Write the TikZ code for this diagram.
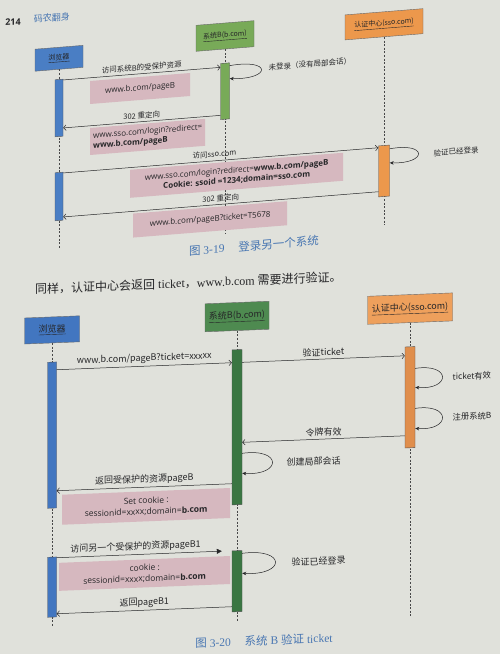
\documentclass[tikz,border=0pt]{standalone}
\usepackage{fontspec}
\setmainfont{Liberation Serif}
\newfontfamily\cjk{Noto Sans CJK SC}
\newfontfamily\lat{Open Sans}
\usetikzlibrary{arrows.meta}

\definecolor{paper}{RGB}{224,225,219}
\definecolor{ink}{RGB}{38,38,40}
\definecolor{capblue}{RGB}{72,118,178}
\definecolor{pinkbox}{RGB}{214,184,191}
\definecolor{blueA}{RGB}{74,126,196}
\definecolor{greenA}{RGB}{120,170,88}
\definecolor{orangeA}{RGB}{236,152,76}
\definecolor{blueB}{RGB}{66,118,192}
\definecolor{greenB}{RGB}{78,138,80}
\definecolor{greenBbar}{RGB}{58,118,66}
\definecolor{orangeB}{RGB}{238,160,92}
\definecolor{orangeBbar}{RGB}{224,142,76}

\begin{document}
\begin{tikzpicture}[x=1pt,y=-1pt,
  head/.style={draw=ink!70, line width=0.4pt, inner sep=0pt, text=ink},
  headS/.style={head, font=\cjk\fontsize{7}{8}\selectfont},
  headL/.style={head, font=\cjk\fontsize{9}{10}\selectfont},
  actbar/.style={draw=ink!80, line width=0.4pt, inner sep=0pt, anchor=north},
  life/.style={draw=ink!85, line width=0.5pt, dash pattern=on 2pt off 1.6pt},
  msg/.style={draw=ink, line width=0.5pt, -{Straight Barb[length=2.5pt,width=5.5pt]}},
  selfmsg/.style={draw=ink, line width=0.5pt, -{Stealth[length=4pt,width=3.5pt]}},
  syncmsg/.style={draw=ink, line width=0.5pt, -{Triangle[length=5pt,width=5pt]}},
  lblS/.style={font=\cjk\fontsize{7.5}{9}\selectfont, text=ink, inner sep=0.5pt},
  lblL/.style={font=\cjk\fontsize{9}{11}\selectfont, text=ink, inner sep=0.5pt},
  lblE/.style={font=\cjk\fontsize{8.3}{10}\selectfont, text=ink, inner sep=0.5pt, anchor=west},
  noteS/.style={fill=pinkbox, inner sep=2pt, anchor=north west, text=ink,
                font=\lat\fontsize{8}{10}\selectfont},
  noteL/.style={fill=pinkbox, inner sep=2pt, anchor=north west, text=ink,
                font=\lat\fontsize{8.5}{11}\selectfont, align=center},
  caption/.style={text=capblue, font=\fontsize{11.5}{13}\selectfont, inner sep=0pt}]

\fill[paper] (0,0) rectangle (500,654);
\useasboundingbox (0,0) rectangle (500,654);

% ---------- running head and Fig. 3-19 ----------
\begin{scope}[yslant=0.08, transform shape]
  \node[font=\lat\bfseries\fontsize{9}{10}\selectfont, text=ink] (pgno) at (13,23) {214};
  \node[font=\cjk\fontsize{9}{10}\selectfont, text=capblue] (runhead) at (52,22) {码农翻身};

  \node[headS, fill=blueA,   minimum width=48pt, minimum height=22pt] (hA) at (59,63)  {\underline{浏览器}};
  \node[headS, fill=greenA,  minimum width=58pt, minimum height=26pt] (hB) at (225,54) {\underline{系统B(b.com)}};
  \node[headS, fill=orangeA, minimum width=78pt, minimum height=25pt] (hC) at (384,55) {\underline{认证中心(sso.com)}};

  \coordinate (eA) at (59,254);
  \coordinate (eB) at (225,252);
  \coordinate (eC) at (384,256);
  \draw[life] (hA.south) -- (eA);
  \draw[life] (hB.south) -- (eB);
  \draw[life] (hC.south) -- (eC);

  \node[actbar, fill=blueA,   minimum width=8pt,  minimum height=57pt] (bA1) at (59,84)  {};
  \node[actbar, fill=blueA,   minimum width=8pt,  minimum height=48pt] (bA2) at (59,177) {};
  \node[actbar, fill=greenA,  minimum width=9pt,  minimum height=56pt] (bB)  at (225,81) {};
  \node[actbar, fill=orangeA, minimum width=11pt, minimum height=51pt] (bC)  at (384,176) {};

  % request to system B
  \draw[msg] ([yshift=-1pt]bA1.north east) -- ([yshift=-4pt]bB.north west)
    node[lblS, midway, above=2pt] (l1) {访问系统B的受保护资源};
  \node[noteS, minimum width=100pt, minimum height=23pt] (p1) at (90,88) {www.b.com/pageB};

  \draw[selfmsg] ([yshift=-3pt]bB.north east) .. controls +(42,-4) and +(42,4) .. ([yshift=-16pt]bB.north east);
  \node[lblS, anchor=west] (t1) at (268,89) {未登录（没有局部会话）};

  \draw[msg] ([yshift=-52pt]bB.north west) -- ([yshift=-49pt]bA1.north east)
    node[lblS, midway, above=2pt] (l2) {302 重定向};
  \node[noteS, align=left, minimum width=115pt, minimum height=27pt] (p2) at (90,135)
    {www.sso.com/login?redirect=\\\textbf{www.b.com/pageB}};

  % redirect to the SSO server
  \draw[msg] ([yshift=-1pt]bA2.north east) -- ([yshift=-2pt]bC.north west)
    node[lblS, pos=0.48, above=2.5pt] (l3) {访问sso.com};
  \node[noteS, align=center, minimum width=213pt, minimum height=28pt] (p3) at (130,180)
    {www.sso.com/login?redirect=\textbf{www.b.com/pageB}\\\textbf{Cookie: ssoid =1234;domain=sso.com}};

  \draw[selfmsg] ([yshift=-4pt]bC.north east) .. controls +(38,-4) and +(38,4) .. ([yshift=-18pt]bC.north east);
  \node[lblS, anchor=west] (t2) at (433,188) {验证已经登录};

  \draw[msg] ([yshift=-46pt]bC.north west) -- ([yshift=-45pt]bA2.north east)
    node[lblS, midway, above=2pt] (l4) {302 重定向};
  \node[noteS, minimum width=154pt, minimum height=24pt] (p4) at (133,224) {www.b.com/pageB?ticket=T5678};

  \node[caption] (cap1) at (254,266) {{\cjk 图} 3-19\hspace{1.2em}{\cjk 登录另一个系统}};
\end{scope}

% ---------- body line and Fig. 3-20 ----------
\begin{scope}[yslant=0.04, transform shape]
  \node[anchor=west, inner sep=0pt, text=ink, font=\fontsize{12}{14}\selectfont] (body) at (35,290.5)
    {{\cjk 同样，认证中心会返回} ticket{\cjk ，}www.b.com {\cjk 需要进行验证。}};

  \node[headL, fill=blueB,   minimum width=55pt, minimum height=26pt] (gA) at (52,332)  {\underline{浏览器}};
  \node[headL, fill=greenB,  minimum width=64pt, minimum height=28pt] (gB) at (237,326) {\underline{系统B(b.com)}};
  \node[headL, fill=orangeB, minimum width=85pt, minimum height=28pt] (gC) at (410,325) {\underline{认证中心(sso.com)}};

  \coordinate (fA) at (52,628);
  \coordinate (fB) at (237,630);
  \coordinate (fC) at (410,632);
  \draw[life] (gA.south) -- (fA);
  \draw[life] (gB.south) -- (fB);
  \draw[life] (gC.south) -- (fC);

  \node[actbar, fill=blueB,      minimum width=9pt,  minimum height=146pt] (cA)  at (52,364)  {};
  \node[actbar, fill=blueB,      minimum width=9pt,  minimum height=60pt]  (cA2) at (52,559)  {};
  \node[actbar, fill=greenBbar,  minimum width=10pt, minimum height=155pt] (cB)  at (237,359) {};
  \node[actbar, fill=greenBbar,  minimum width=10pt, minimum height=61pt]  (cB2) at (237,560) {};
  \node[actbar, fill=orangeBbar, minimum width=10pt, minimum height=101pt] (cC)  at (410,363) {};

  \draw[msg] ([yshift=-8pt]cA.north east) -- ([yshift=-13pt]cB.north west)
    node[lblL, midway, above=2pt] (k1) {www.b.com/pageB?ticket=xxxxx};
  \draw[msg] ([yshift=-13pt]cB.north east) -- ([yshift=-9pt]cC.north west)
    node[lblL, midway, above=2pt] (k2) {验证ticket};

  \draw[selfmsg] ([yshift=-22pt]cC.north east) .. controls +(36,-4) and +(36,4) .. ([yshift=-41pt]cC.north east);
  \node[lblE] (s1) at (452,395) {ticket有效};
  \draw[selfmsg] ([yshift=-62pt]cC.north east) .. controls +(36,-4) and +(36,4) .. ([yshift=-82pt]cC.north east);
  \node[lblE] (s2) at (452,435) {注册系统B};

  \draw[msg] ([yshift=-89pt]cC.north west) -- ([yshift=-93pt]cB.north east)
    node[lblL, midway, above=2pt] (k3) {令牌有效};

  \draw[selfmsg] ([yshift=-104pt]cB.north east) .. controls +(40,-4) and +(40,4) .. ([yshift=-124pt]cB.north east);
  \node[lblL, anchor=west] (s3) at (286,474) {创建局部会话};

  \draw[msg] ([yshift=-134pt]cB.north west) -- ([yshift=-129pt]cA.north east)
    node[lblL, midway, above=2pt] (k4) {返回受保护的资源pageB};
  \node[noteL, minimum width=168pt, minimum height=30pt] (q1) at (62,497)
    {Set cookie :\\sessionid=xxxx;domain=\textbf{b.com}};

  \draw[syncmsg, shorten >=10pt] ([yshift=-1pt]cA2.north east) -- (cB2.north west)
    node[lblL, pos=0.45, above=2pt] (k5) {访问另一个受保护的资源pageB1};
  \node[noteL, minimum width=171pt, minimum height=28pt] (q2) at (59,565)
    {cookie :\\sessionid=xxxx;domain=\textbf{b.com}};

  \draw[selfmsg] ([yshift=-3pt]cB2.north east) .. controls +(44,-4) and +(44,4) .. ([yshift=-23pt]cB2.north east);
  \node[lblL, anchor=west] (s4) at (291,574) {验证已经登录};

  \draw[msg] ([yshift=-56pt]cB2.north west) -- ([yshift=-57pt]cA2.north east)
    node[lblL, midway, above=2pt] (k6) {返回pageB1};

  \node[caption] (cap2) at (264,651) {{\cjk 图} 3-20\hspace{1.2em}{\cjk 系统} B {\cjk 验证} ticket};
\end{scope}
\end{tikzpicture}
\end{document}
